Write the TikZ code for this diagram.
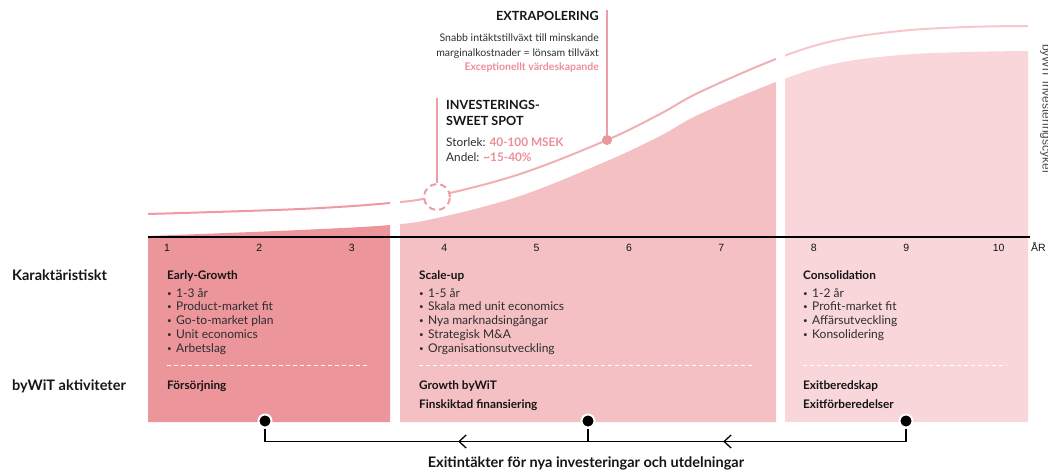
\documentclass[tikz,border=0pt]{standalone}
\usepackage{fontspec}
\setmainfont{Lato}
\newfontfamily\arialfont{Liberation Sans}
\usetikzlibrary{decorations.markings,arrows.meta}

\definecolor{phaseEarly}{HTML}{EC959B}
\definecolor{phaseScale}{HTML}{F4C0C4}
\definecolor{phaseConsol}{HTML}{F8D6DA}
\definecolor{lineEarly}{HTML}{EE9AA0}
\definecolor{lineScale}{HTML}{F1AFB4}
\definecolor{lineConsol}{HTML}{F5C8CC}
\definecolor{pinktxt}{HTML}{EC8E97}
\definecolor{pinkline}{HTML}{EE9DA3}
\definecolor{pinkdot}{HTML}{E8979D}
\definecolor{ink}{HTML}{151515}
\definecolor{bodyink}{HTML}{2E2E2E}
\definecolor{sideink}{HTML}{4A4A4A}

\newcommand\smallbullet{\makebox[9pt][l]{\raisebox{0.8pt}{\fontsize{8}{8}\selectfont\textbullet}}}

\begin{document}
\begin{tikzpicture}[x=1pt,y=-1pt,
  lbl/.style={inner sep=0pt, anchor=base west, text=ink},
  body/.style={lbl, font=\fontsize{12}{14}\selectfont, text=bodyink},
  note/.style={lbl, font=\fontsize{10.5}{12}\selectfont, text=bodyink},
  spot/.style={lbl, font=\fontsize{11.8}{14}\selectfont, text=bodyink},
  head/.style={lbl, font=\bfseries\fontsize{11.8}{14}\selectfont},
  rowlabel/.style={lbl, font=\bfseries\fontsize{14.5}{16}\selectfont},
  bigtitle/.style={lbl, font=\bfseries\fontsize{12.6}{14}\selectfont},
  yearlabel/.style={inner sep=0pt, anchor=base, font=\arialfont\fontsize{10.5}{12}\selectfont, text=ink},
  sep/.style={white, line width=1pt, dash pattern=on 4pt off 3pt},
  dotnode/.style={circle, fill=black, draw=white, line width=2pt, minimum size=13pt, inner sep=0pt},
  flow/.style={line width=1.5pt, black},
  chevron/.style={decoration={markings, mark=at position #1 with {\arrow{Straight Barb[length=7pt, width=13pt, line width=1.3pt]}}}, postaction={decorate}}
]
\useasboundingbox (0,0) rectangle (1048,473);

% phase columns with the growth curve on top
\foreach \xa/\xb/\col/\lcol in {148/390/phaseEarly/lineEarly, 400/776/phaseScale/lineScale, 785/1028/phaseConsol/lineConsol}{
  \begin{scope}
    \clip (\xa,0) rectangle (\xb,422);
    \fill[\col] plot[smooth, tension=0.6] coordinates {(148,236) (300,230) (390,225) (437,218) (520,196) (607,161) (660,136) (700,114) (776,82) (833,64) (900,55) (967,52) (1028,51)}
      -- (1028,422) -- (148,422) -- cycle;
    \draw[\lcol, line width=2pt] plot[smooth, tension=0.6] coordinates {(148,214) (300,209) (390,203) (437,196) (520,174) (607,140) (660,114) (700,92) (776,59) (833,41) (900,31) (967,27) (1028,26)};
  \end{scope}
}

% time axis
\draw[black, line width=1.1pt] (148,237) -- (1030,237);
\foreach \i in {1,...,10}{
  \node[yearlabel] (yr\i) at ({167+92.4*(\i-1)},251) {\i};
}
\node[yearlabel, anchor=base west] (ar) at (1031,251) {ÅR};

% side caption, running off the right edge
\node[inner sep=0pt, anchor=base west, rotate=-90, font=\arialfont\fontsize{12}{14}\selectfont, text=sideink] (cycle) at (1042.5,44) {byWiT investeringscykel};

% sweet spot marker
\coordinate (sweettop) at (437,98);
\node[circle, draw=pinkline, fill=white, line width=2pt, dash pattern=on 6.5pt off 4pt, minimum size=26pt, inner sep=0pt] (sweet) at (437,197) {};
\draw[pinkline, line width=1.5pt] (sweettop) -- (sweet);

% extrapolation marker
\coordinate (exttop) at (607,10);
\node[circle, fill=pinkdot, minimum size=10pt, inner sep=0pt] (extdot) at (607,140) {};
\draw[pinkline, line width=1.5pt] (exttop) -- (extdot);

% extrapolation text
\node[bigtitle, anchor=base east] (extitle) at (599,21) {EXTRAPOLERING};
\node[note, anchor=base east] (ext1) at (599,42) {Snabb intäktstillväxt till minskande};
\node[note, anchor=base east] (ext2) at (599,56.5) {marginalkostnader = lönsam tillväxt};
\node[note, anchor=base east, font=\bfseries\fontsize{10.5}{12}\selectfont, text=pinktxt] (ext3) at (599,71) {Exceptionellt värdeskapande};

% sweet spot text
\node[bigtitle] (sw1) at (446,110) {INVESTERINGS-};
\node[bigtitle] (sw2) at (446,126) {SWEET SPOT};
\node[spot] (sw3) at (446,147) {Storlek: \textcolor{pinktxt}{\bfseries 40-100 MSEK}};
\node[spot] (sw4) at (446,162) {Andel: \textcolor{pinktxt}{\bfseries \textasciitilde15-40\%}};

% row labels
\node[rowlabel] (rowchar) at (12,280) {Karaktäristiskt};
\node[rowlabel] (rowact) at (12,390) {byWiT aktiviteter};

% column 1
\node[head] (eh) at (167,279) {Early-Growth};
\foreach \t [count=\i] in {1-3 år, Product-market fit, Go-to-market plan, Unit economics, Arbetslag}{
  \node[body] (e\i) at (167,{297+13.75*(\i-1)}) {\smallbullet\t};
}
\draw[sep] (167,365) -- (370,365);
\node[head] (ea) at (167,389) {Försörjning};

% column 2
\node[head] (sh) at (419,279) {Scale-up};
\foreach \t [count=\i] in {1-5 år, Skala med unit economics, Nya marknadsingångar, Strategisk M\&A, Organisationsutveckling}{
  \node[body] (s\i) at (419,{297+13.75*(\i-1)}) {\smallbullet\t};
}
\draw[sep] (419,365) -- (754,365);
\node[head] (sa1) at (419,389) {Growth byWiT};
\node[head] (sa2) at (419,408) {Finskiktad finansiering};

% column 3
\node[head] (ch) at (803,279) {Consolidation};
\foreach \t [count=\i] in {1-2 år, Profit-market fit, Affärsutveckling, Konsolidering}{
  \node[body] (c\i) at (803,{297+13.75*(\i-1)}) {\smallbullet\t};
}
\draw[sep] (803,365) -- (1007,365);
\node[head] (ca1) at (803,389) {Exitberedskap};
\node[head] (ca2) at (803,408) {Exitförberedelser};

% exit proceeds flowing back
\node[dotnode] (d1) at (265,421) {};
\node[dotnode] (d2) at (588,421) {};
\node[dotnode] (d3) at (906,421) {};
\coordinate (j1) at (265,441.5);
\coordinate (j2) at (588,441.5);
\coordinate (j3) at (906,441.5);
\draw[flow] (d1.south) -- (j1);
\draw[flow] (d2.south) -- (j2);
\draw[flow] (d3.south) -- (j3);
\draw[flow, chevron=0.575] (j3) -- (j2);
\draw[flow, chevron=0.402] (j2) -- (j1);
\node[inner sep=0pt, anchor=base, font=\bfseries\fontsize{14.5}{16}\selectfont, text=ink] (exitlabel) at (586,467) {Exitintäkter för nya investeringar och utdelningar};

\end{tikzpicture}
\end{document}
